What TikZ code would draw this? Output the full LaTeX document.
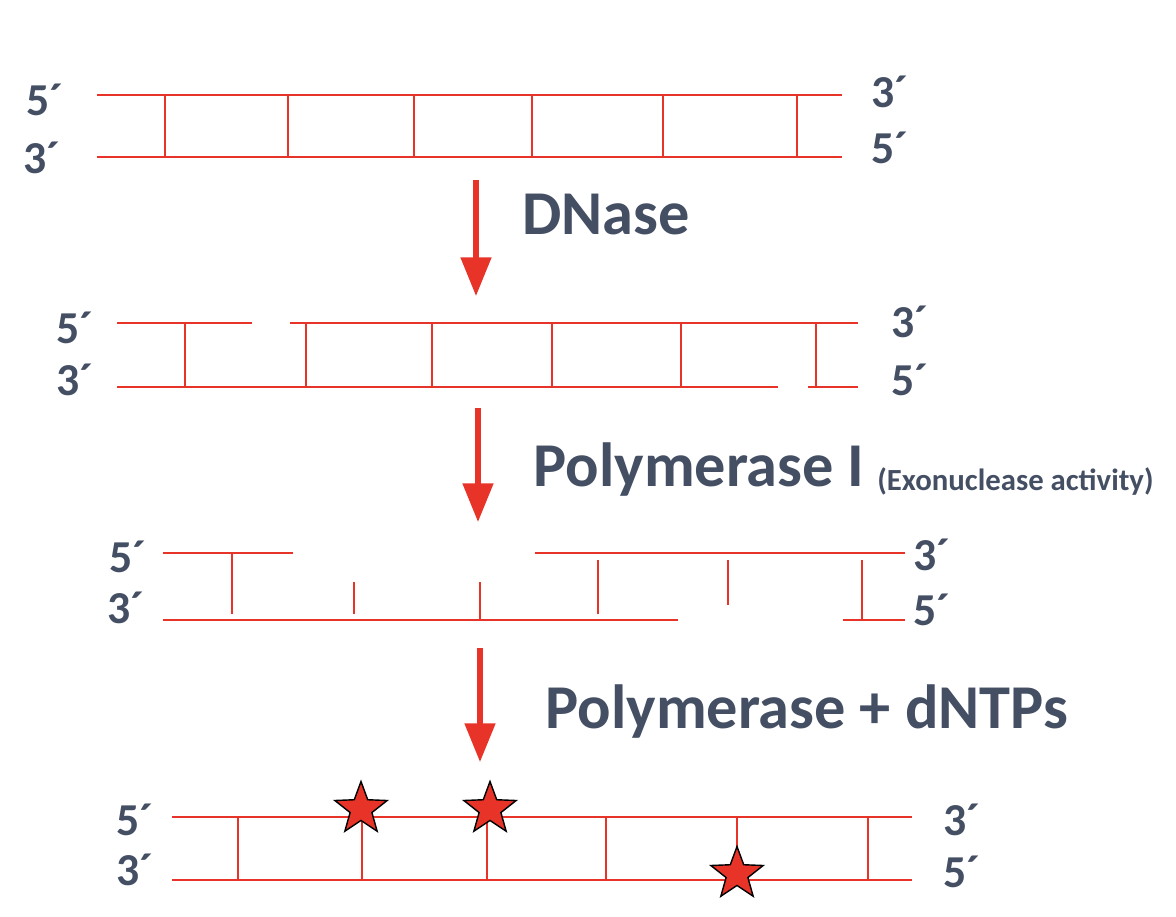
\documentclass[tikz,border=0pt]{standalone}
\usepackage{fontspec}
\setmainfont{Carlito}
\usetikzlibrary{arrows.meta,shapes.geometric}
\definecolor{dred}{RGB}{232,52,40}
\definecolor{tgray}{RGB}{68,79,100}
\tikzset{
 strand/.style={draw=dred,line width=1.3pt},
 rung/.style={draw=dred,line width=1.3pt},
 lab/.style={text=tgray,font=\fontsize{26}{26}\selectfont\bfseries,inner sep=0pt},
 big/.style={text=tgray,font=\fontsize{35.5}{36}\selectfont\bfseries,inner sep=0pt,anchor=west},
 arr/.style={draw=dred,line width=3pt,-{Triangle[width=17pt,length=22pt]}},
 st/.style={star,star points=5,star point ratio=2.4,fill=dred,draw=black,line width=0.8pt,minimum size=1.1cm,inner sep=0pt}
}
\begin{document}
\begin{tikzpicture}[x=0.02cm,y=-0.02cm]
\useasboundingbox (0,0) rectangle (1176,916);
% row 1
\coordinate (a1) at (97,95); \coordinate (a2) at (842,95);
\coordinate (b1) at (97,157); \coordinate (b2) at (842,157);
\draw[strand] (a1)--(a2); \draw[strand] (b1)--(b2);
\foreach \x in {165,288,414,532,663,797} \draw[rung] (\x,95)--(\x,157);
\node[lab] (l1a) at (45,100) {5´}; \node[lab] (l1b) at (42,158) {3´};
\node[lab] (r1a) at (890,92) {3´}; \node[lab] (r1b) at (890,148) {5´};
\coordinate (s1) at (476,180); \coordinate (e1) at (476,296);
\draw[arr] (s1)--(e1);
\node[big] (t1) at (522,215) {DNase};
% row 2
\draw[strand] (117,323)--(252,323); \draw[strand] (290,323)--(858,323);
\draw[strand] (117,387)--(778,387); \draw[strand] (808,387)--(858,387);
\foreach \x in {185,306,432,552,681,816} \draw[rung] (\x,323)--(\x,387);
\node[lab] (l2a) at (75,328) {5´}; \node[lab] (l2b) at (75,380) {3´};
\node[lab] (r2a) at (910,322) {3´}; \node[lab] (r2b) at (910,380) {5´};
\coordinate (s2) at (478,408); \coordinate (e2) at (478,522);
\draw[arr] (s2)--(e2);
\node[big] (t2) at (533,470) {Polymerase I};
\node[text=tgray,font=\fontsize{17.5}{18}\selectfont\bfseries,inner sep=0pt,anchor=west] (t2b) at (877,481) {(Exonuclease activity)};
% row 3
\draw[strand] (163,553)--(293,553); \draw[strand] (535,553)--(905,553);
\draw[strand] (163,620)--(678,620); \draw[strand] (843,620)--(905,620);
\draw[rung] (232,553)--(232,614);
\draw[rung] (354,582)--(354,614);
\draw[rung] (480,582)--(480,620);
\draw[rung] (598,560)--(598,614);
\draw[rung] (728,560)--(728,605);
\draw[rung] (862,560)--(862,620);
\node[lab] (l3a) at (128,557) {5´}; \node[lab] (l3b) at (126,608) {3´};
\node[lab] (r3a) at (932,555) {3´}; \node[lab] (r3b) at (932,610) {5´};
\coordinate (s3) at (480,648); \coordinate (e3) at (480,762);
\draw[arr] (s3)--(e3);
\node[big] (t3) at (545,712) {Polymerase + dNTPs};
% row 4
\draw[strand] (172,817)--(912,817); \draw[strand] (172,880)--(912,880);
\foreach \x in {238,362,487,606,737,868} \draw[rung] (\x,817)--(\x,880);
\node[st] (st1) at (361,809) {};
\node[st] (st2) at (490,809) {};
\node[st] (st3) at (737,874) {};
\node[lab] (l4a) at (135,820) {5´}; \node[lab] (l4b) at (135,870) {3´};
\node[lab] (r4a) at (962,820) {3´}; \node[lab] (r4b) at (962,872) {5´};
\end{tikzpicture}
\end{document}
